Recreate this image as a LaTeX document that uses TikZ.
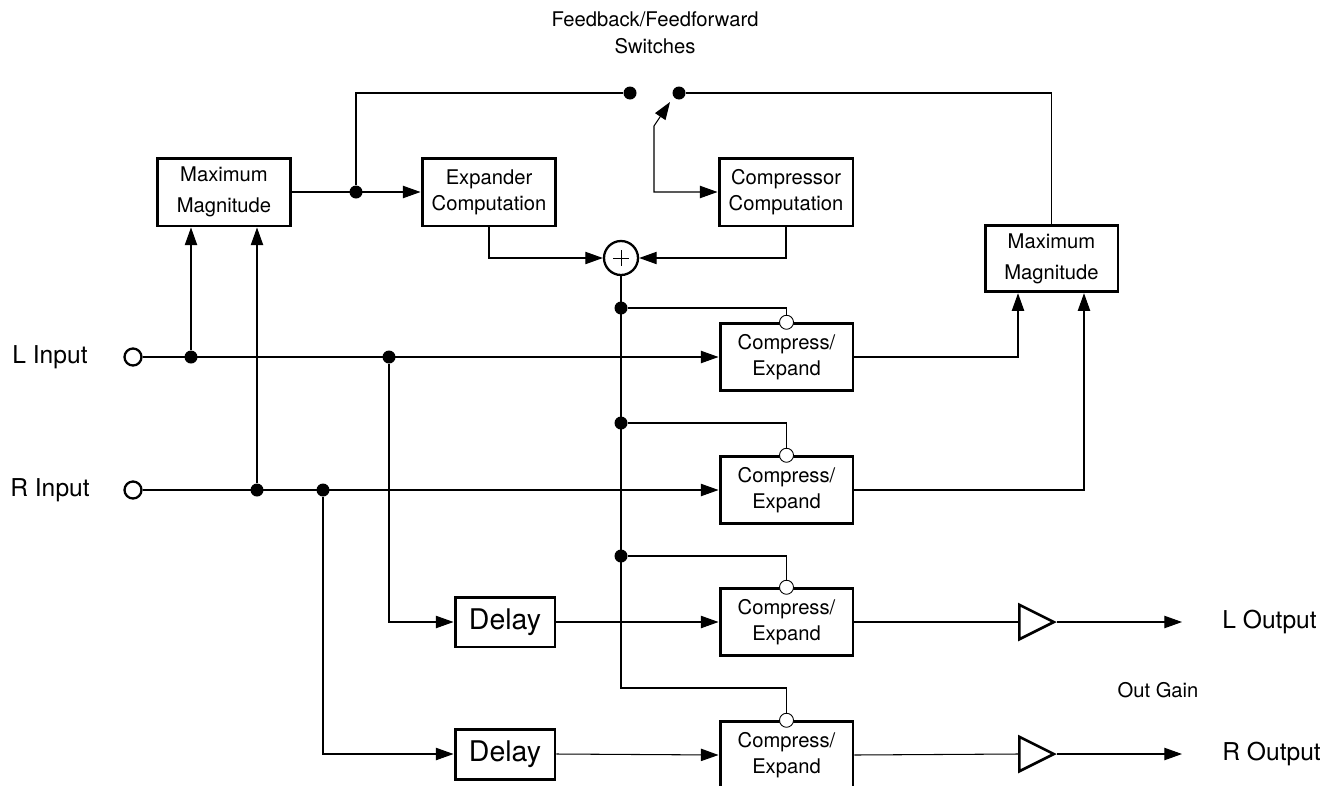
\documentclass[tikz,border=0pt]{standalone}
\usepackage{fontspec}
\setmainfont{TeX Gyre Heros}
\usetikzlibrary{arrows.meta,shapes.geometric}

\tikzset{
    blk/.style={draw, line width=1.7pt, inner sep=0pt, align=center,
        minimum width=2.66cm, minimum height=1.33cm,
        font=\fontsize{11.5}{14.9}\selectfont},
    dot/.style={circle, fill, inner sep=0pt, minimum size=0.26cm},
    port/.style={circle, draw, line width=1.3pt, fill=white, inner sep=0pt, minimum size=0.34cm},
    ctl/.style={circle, draw, line width=0.5pt, fill=white, inner sep=0pt, minimum size=0.28cm},
    amp/.style={isosceles triangle, isosceles triangle stretches, draw, line width=1.5pt,
        inner sep=0pt, minimum width=0.69cm, minimum height=0.69cm},
    lbl/.style={font=\fontsize{14}{16}\selectfont},
    sig/.style={-{Triangle[length=10pt,width=7pt]}},
}

\begin{document}
\begin{tikzpicture}[x=0.02cm, y=-0.02cm, line width=0.6pt]

        \useasboundingbox (0,0) rectangle (1332,785);

        % side chain blocks
        \node[blk, minimum width=2.68cm, minimum height=1.36cm,
            font=\fontsize{11.5}{17.6}\selectfont] (mmL) at (224,192) {Maximum\\Magnitude};
        \node[blk, minimum width=2.68cm, minimum height=1.36cm] (exp) at (489,192) {Expander\\Computation};
        \node[blk, minimum width=2.68cm, minimum height=1.36cm] (cmp) at (786,192) {Compressor\\Computation};
        \node[blk, font=\fontsize{11.5}{17.6}\selectfont] (mmR) at (1051.5,258.5) {Maximum\\Magnitude};

        \node[circle, draw, line width=1.3pt, inner sep=0pt, minimum size=0.68cm] (sum) at (621,258) {};
        \draw[line width=0.5pt] (sum.center) ++(-8,0) -- ++(16,0);
        \draw[line width=0.5pt] (sum.center) ++(0,-8) -- ++(0,16);

        % gain cells and delays
        \foreach \n/\y in {1/357, 2/490, 3/622, 4/755}
            \node[blk] (ce\n) at (786.5,\y) {Compress/\\Expand};
        \node[blk, minimum width=2cm, minimum height=1cm,
            font=\fontsize{16.2}{18}\selectfont] (dl1) at (505,622) {Delay};
        \node[blk, minimum width=2cm, minimum height=1cm,
            font=\fontsize{16.2}{18}\selectfont] (dl2) at (505,754) {Delay};

        % ins and outs
        \node[port] (inL) at (133,357) {};
        \node[port] (inR) at (133,490) {};
        \node[lbl] (lblLi) at (50,357) {L Input};
        \node[lbl] (lblRi) at (50,490) {R Input};

        \node[amp, anchor=west] (ampL) at (1018,622) {};
        \node[amp, anchor=west] (ampR) at (1018,754) {};
        \coordinate (oL) at (1182,622);
        \coordinate (oR) at (1182,754);
        \node[lbl, anchor=west] (lblLo) at (1216,622) {L Output};
        \node[lbl, anchor=west] (lblRo) at (1216,754) {R Output};
        \node[font=\fontsize{11.5}{14}\selectfont] (lblGain) at (1158,690) {Out Gain};

        % switches
        \node[dot] (swA) at (630,93) {};
        \node[dot] (swB) at (679,93) {};
        \coordinate (swT) at (670,102);
        \coordinate (swK) at (654,126);
        \node[font=\fontsize{11.5}{15.3}\selectfont, align=center] (lblSw) at (655,33)
            {Feedback/Feedforward\\Switches};

        % branch points
        \node[dot] (jA) at (356,192) {};
        \node[dot] (jL1) at (191,357) {};
        \node[dot] (jL2) at (389,357) {};
        \node[dot] (jR1) at (257,490) {};
        \node[dot] (jR2) at (323,490) {};
        \node[dot] (jS1) at (621,308) {};
        \node[dot] (jS2) at (621,423) {};
        \node[dot] (jS3) at (621,556) {};
        \coordinate (kS) at (621,688);

        % control inputs on the gain cells
        \foreach \n in {1,...,4}
            \node[ctl] (c\n) at (ce\n.north) {};

        % main signal paths
        \draw[sig] (inL.east) -- (ce1.west);
        \draw[sig] (inR.east) -- (ce2.west);
        \draw[sig] (jL1) -- (jL1 |- mmL.south);
        \draw[sig] (jR1) -- (jR1 |- mmL.south);
        \draw[sig] (jL2) |- (dl1.west);
        \draw[sig] (jR2) |- (dl2.west);
        \draw[sig] (dl1.east) -- (ce3.west);
        \draw[sig] (dl2.east) -- (ce4.west);
        \draw (ce3.east) -- (ampL.west);
        \draw (ce4.east) -- (ampR.west);
        \draw[sig] (ampL.apex) -- (oL);
        \draw[sig] (ampR.apex) -- (oR);

        % detector paths
        \draw[sig] (mmL.east) -- (exp.west);
        \draw (jA) |- (swA);
        \draw (swB) -| (mmR.north);
        \draw[sig] (ce1.east) -| ([xshift=-0.67cm]mmR.south);
        \draw[sig] (ce2.east) -| ([xshift=0.65cm]mmR.south);
        \draw[{Triangle[length=10pt,width=7pt]}-{Triangle[length=10pt,width=7pt]}]
            (swT) -- (swK) |- (cmp.west);
        \draw[sig] (exp.south) |- (sum.west);
        \draw[sig] (cmp.south) |- (sum.east);

        % gain control
        \draw (sum.south) -- (kS) -| (c4.north);
        \draw (jS1) -| (c1.north);
        \draw (jS2) -| (c2.north);
        \draw (jS3) -| (c3.north);

\end{tikzpicture}
\end{document}
